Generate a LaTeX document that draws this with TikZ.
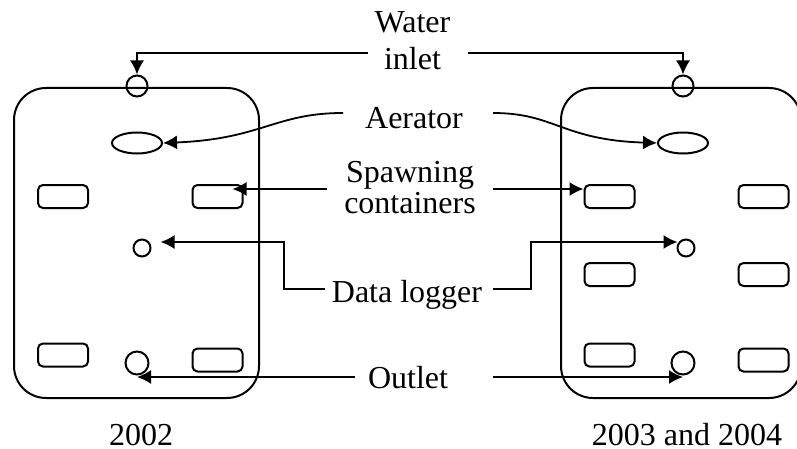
\documentclass[tikz,border=0pt]{standalone}
\usepackage{fontspec}
\setmainfont{Liberation Serif}
\usetikzlibrary{shapes,arrows.meta,positioning,calc}
\tikzstyle{tank} = [draw, rectangle, rounded corners=16pt, line width=1pt, inner sep=0pt, minimum height=155pt]
\tikzstyle{cont} = [draw, rectangle, rounded corners=2.5pt, line width=1pt, minimum width=25pt, minimum height=11.5pt, inner sep=0pt]
\tikzstyle{hole} = [draw, circle, line width=1pt, inner sep=0pt]
\tikzstyle{aer} = [draw, ellipse, line width=1pt, minimum width=25pt, minimum height=10.5pt, inner sep=0pt]
\tikzstyle{lbl} = [align=center, inner sep=0pt, anchor=base, font=\fontsize{16}{18.5}\selectfont]
\tikzstyle{arr} = [draw, line width=0.9pt, -{Latex[length=7pt,width=7pt]}]

\begin{document}
\begin{tikzpicture}[x=0.5pt,y=-0.5pt]
    \useasboundingbox (0,0) rectangle (797,449);

    % tanks
    \node [tank, minimum width=122.5pt] (tankL) at (136.5,243) {};
    \node [tank, minimum width=120pt] (tankR) at (681,243) {};

    % 2002
    \node [hole, minimum size=10.5pt] (inL) at (137,86) {};
    \node [aer] (aerL) at (137,143) {};
    \node [cont] (cL1) at (63,196.5) {};
    \node [cont] (cL2) at (217.5,196.5) {};
    \node [hole, minimum size=8.5pt] (dgL) at (142,248) {};
    \node [cont] (cL3) at (63,355) {};
    \node [cont] (cL4) at (217.5,360) {};
    \node [hole, minimum size=11.5pt] (olcL) at (137,363) {};

    % 2003 and 2004
    \node [hole, minimum size=10.5pt] (inR) at (683,86) {};
    \node [aer] (aerR) at (683,143) {};
    \node [cont] (cR1) at (609.5,196.5) {};
    \node [cont] (cR2) at (763.5,196.5) {};
    \node [hole, minimum size=8.5pt] (dgR) at (686,248) {};
    \node [cont] (cR3) at (609.5,274.5) {};
    \node [cont] (cR4) at (763.5,274.5) {};
    \node [cont] (cR5) at (609.5,355) {};
    \node [cont] (cR6) at (763.5,360) {};
    \node [hole, minimum size=11.5pt] (olcR) at (683,363) {};

    % labels
    \node [lbl] (wi) at (412.5,70) {Water\\inlet};
    \node [lbl] (ae) at (414,128) {Aerator};
    \node [lbl] (sc) at (410,213) {Spawning\\[-3pt]containers};
    \node [lbl] (dl) at (407,302) {Data logger};
    \node [lbl] (ol) at (408,388) {Outlet};
    \node [lbl] (yL) at (141,445) {2002};
    \node [lbl] (yR) at (687,445) {2003 and 2004};

    \coordinate (wiL) at (368,53);
    \coordinate (wiR) at (468,53);
    \coordinate (aeL) at (343,113);
    \coordinate (aeR) at (493,113);
    \coordinate (scL) at (327,189);
    \coordinate (scR) at (493,189);
    \coordinate (dlL) at (325,289);
    \coordinate (dlR) at (493,289);
    \coordinate (olL) at (355,377);
    \coordinate (olR) at (493,377);

    \draw [arr] (wiL) -| (inL.north);
    \draw [arr] (wiR) -| (inR.north);
    \draw [arr] (aeL) .. controls (275,113) and (262,139) .. (aerL.east);
    \draw [arr] (aeR) .. controls (555,113) and (562,140) .. (aerR.west);
    \draw [arr] (scL) -- ($(cL2.east |- scL)+(-11,0)$);
    \draw [arr] (scR) -- (scR -| cR1.west);
    \draw [arr] (dlL) -- ++(-41,0) |- ($(dgL.east)+(9,-6)$);
    \draw [arr] (dlR) -- ++(38,0) |- ($(dgR.west)+(1,-6)$);
    \draw [arr] (olL) -- (olL -| olcL);
    \draw [arr] (olR) -- (olR -| olcR);
\end{tikzpicture}
\end{document}
